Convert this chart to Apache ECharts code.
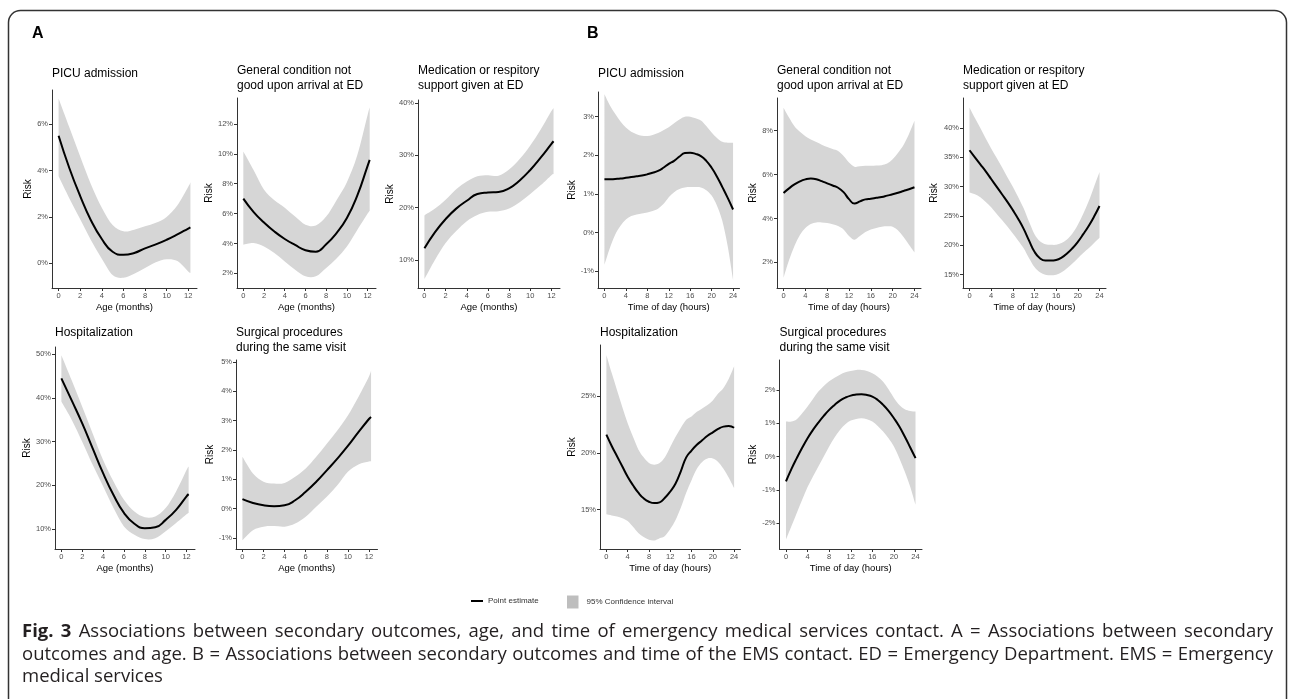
<!DOCTYPE html>
<html lang="en">
<head>
<meta charset="UTF-8">
<title>Fig. 3</title>
<script src="https://cdn.jsdelivr.net/npm/echarts@6/dist/echarts.min.js"></script>
<style>
  html, body { margin: 0; padding: 0; background: #fff; }
  #chart { width: 1295px; height: 699px; }
</style>
</head>
<body>
<div id="chart"></div>
<script>
// x values
const ageX = [0, 1, 2, 3, 4, 5, 6, 7, 8, 9, 10, 11, 12, 12.2];
const hourX = [0, 1, 2, 3, 4, 5, 6, 7, 8, 9, 10, 11, 12, 13, 14, 15, 16, 17, 18, 19, 20, 21, 22, 23, 24];
const ageTicks = [0, 2, 4, 6, 8, 10, 12];
const hourTicks = [0, 4, 8, 12, 16, 20, 24];

// A: risk by age (%)
const a1Est = [5.5, 4.1, 2.9, 1.85, 1.05, 0.5, 0.37, 0.45, 0.65, 0.82, 1.02, 1.25, 1.5, 1.55];
const a1Hi  = [7.1, 5.85, 4.6, 3.4, 2.4, 1.65, 1.38, 1.45, 1.6, 1.75, 2.0, 2.5, 3.3, 3.5];
const a1Lo  = [3.75, 2.8, 1.9, 1.0, 0.2, -0.5, -0.62, -0.45, -0.2, 0.05, 0.18, 0.1, -0.35, -0.42];

const a2Est = [7.0, 6.1, 5.4, 4.8, 4.3, 3.9, 3.55, 3.45, 3.95, 4.7, 5.7, 7.2, 9.2, 9.6];
const a2Hi  = [10.15, 8.9, 7.6, 6.9, 6.4, 5.8, 5.25, 5.2, 5.8, 6.9, 8.1, 9.9, 12.6, 13.1];
const a2Lo  = [3.92, 4.03, 3.8, 3.36, 2.8, 2.25, 1.8, 1.8, 2.36, 3.0, 3.8, 4.9, 6.0, 6.2];

const a3Est = [12.2, 15.3, 17.8, 19.8, 21.3, 22.6, 22.9, 23.0, 23.7, 25.2, 27.2, 29.6, 32.2, 32.7];
const a3Hi  = [18.5, 19.8, 21.5, 23.5, 25.0, 26.0, 26.2, 26.1, 27.3, 29.3, 31.9, 35.0, 38.5, 39.0];
const a3Lo  = [6.3, 10.0, 13.2, 15.5, 17.4, 18.6, 19.2, 19.3, 19.8, 21.0, 22.6, 24.3, 26.2, 26.4];

const a4Est = [44.5, 39.4, 34.2, 28.5, 22.8, 17.8, 13.7, 11.2, 10.2, 10.4, 12.1, 14.4, 17.5, 18.0];
const a4Hi  = [49.8, 44.0, 38.0, 31.9, 25.8, 20.9, 16.7, 14.0, 12.7, 12.9, 14.8, 18.6, 23.5, 24.3];
const a4Lo  = [39.2, 35.0, 30.0, 24.7, 19.8, 14.8, 10.6, 8.7, 7.7, 7.9, 9.5, 11.4, 13.4, 13.7];

const a5Est = [0.32, 0.19, 0.11, 0.08, 0.11, 0.28, 0.57, 0.91, 1.3, 1.7, 2.13, 2.6, 3.05, 3.12];
const a5Hi  = [1.76, 1.19, 0.91, 0.85, 0.87, 1.08, 1.36, 1.76, 2.21, 2.66, 3.17, 3.8, 4.5, 4.7];
const a5Lo  = [-1.08, -0.74, -0.62, -0.6, -0.62, -0.51, -0.28, 0.06, 0.4, 0.79, 1.25, 1.5, 1.6, 1.6];

// B: risk by time of day (%)
const b1Est = [1.38, 1.38, 1.39, 1.40, 1.42, 1.44, 1.46, 1.48, 1.51, 1.55, 1.60, 1.68, 1.78, 1.86, 1.97, 2.06, 2.07, 2.04, 1.98, 1.86, 1.68, 1.45, 1.18, 0.9, 0.6];
const b1Hi  = [3.58, 3.3, 3.08, 2.88, 2.72, 2.61, 2.55, 2.51, 2.50, 2.53, 2.58, 2.65, 2.73, 2.83, 2.93, 3.0, 3.0, 2.96, 2.9, 2.76, 2.59, 2.45, 2.35, 2.33, 2.33];
const b1Lo  = [-0.83, -0.4, -0.05, 0.18, 0.34, 0.43, 0.47, 0.5, 0.52, 0.56, 0.62, 0.74, 0.92, 1.05, 1.13, 1.17, 1.18, 1.18, 1.17, 1.1, 0.96, 0.7, 0.3, -0.35, -1.22];

const b2Est = [5.16, 5.37, 5.55, 5.69, 5.78, 5.82, 5.79, 5.7, 5.6, 5.5, 5.4, 5.2, 4.88, 4.68, 4.78, 4.87, 4.9, 4.94, 4.98, 5.04, 5.1, 5.17, 5.25, 5.33, 5.42];
const b2Hi  = [9.05, 8.6, 8.2, 7.95, 7.75, 7.6, 7.48, 7.36, 7.26, 7.17, 7.08, 6.85, 6.55, 6.36, 6.38, 6.4, 6.4, 6.41, 6.43, 6.5, 6.7, 7.0, 7.35, 7.85, 8.45];
const b2Lo  = [1.3, 2.1, 2.75, 3.25, 3.57, 3.75, 3.82, 3.82, 3.79, 3.73, 3.66, 3.5, 3.2, 3.03, 3.2, 3.38, 3.5, 3.57, 3.62, 3.64, 3.62, 3.45, 3.15, 2.8, 2.45];

const b3Est = [36.2, 35.0, 33.8, 32.6, 31.3, 30.0, 28.7, 27.4, 26.0, 24.5, 22.8, 20.8, 18.9, 17.8, 17.4, 17.4, 17.5, 17.9, 18.6, 19.5, 20.6, 21.9, 23.3, 24.9, 26.7];
const b3Hi  = [43.5, 41.7, 40.0, 38.2, 36.5, 34.9, 33.3, 31.6, 30.0, 28.2, 26.3, 24.0, 21.9, 20.7, 20.2, 20.1, 20.1, 20.4, 21.0, 22.0, 23.5, 25.4, 27.5, 30.0, 32.5];
const b3Lo  = [29.0, 28.7, 28.2, 27.4, 26.5, 25.4, 24.3, 23.2, 22.0, 20.8, 19.5, 17.8, 16.3, 15.4, 15.0, 14.9, 15.0, 15.4, 16.1, 16.9, 17.8, 18.7, 19.5, 20.4, 21.3];

const b4Est = [21.6, 20.6, 19.7, 18.8, 17.9, 17.15, 16.5, 16.0, 15.7, 15.58, 15.65, 16.05, 16.6, 17.3, 18.4, 19.6, 20.2, 20.7, 21.1, 21.5, 21.8, 22.1, 22.3, 22.35, 22.2];
const b4Hi  = [28.6, 27.0, 25.5, 24.0, 22.6, 21.4, 20.3, 19.6, 19.1, 18.95, 19.1, 19.6, 20.5, 21.4, 22.2, 22.9, 23.2, 23.6, 23.9, 24.2, 24.6, 25.2, 25.7, 26.5, 27.6];
const b4Lo  = [14.6, 14.5, 14.4, 14.25, 14.0, 13.5, 12.95, 12.6, 12.37, 12.3, 12.5, 12.7, 13.3, 14.1, 15.2, 16.5, 17.6, 18.6, 19.2, 19.5, 19.5, 19.2, 18.6, 17.8, 16.9];

const b5Est = [-0.75, -0.38, -0.05, 0.26, 0.55, 0.8, 1.02, 1.22, 1.4, 1.55, 1.68, 1.77, 1.83, 1.86, 1.87, 1.85, 1.8, 1.7, 1.55, 1.37, 1.15, 0.9, 0.6, 0.28, -0.05];
const b5Hi  = [1.05, 1.05, 1.12, 1.3, 1.5, 1.73, 1.95, 2.12, 2.26, 2.37, 2.46, 2.53, 2.57, 2.6, 2.6, 2.57, 2.5, 2.4, 2.25, 2.02, 1.76, 1.55, 1.42, 1.37, 1.35];
const b5Lo  = [-2.5, -2.1, -1.7, -1.3, -0.92, -0.6, -0.3, 0.0, 0.3, 0.57, 0.8, 0.97, 1.08, 1.13, 1.15, 1.12, 1.05, 0.92, 0.75, 0.55, 0.3, -0.05, -0.45, -0.9, -1.45];

const FONT = '"Liberation Sans", Arial, sans-serif';

// panel layout: grid = [left, top, width, height] in px
const panels = [
  { title: 'PICU admission', x: ageX, est: a1Est, lo: a1Lo, hi: a1Hi, xTicks: ageTicks, xName: 'Age (months)',
    grid: [52, 90, 145, 198], y: [-1.06, 7.47], yTicks: [0, 2, 4, 6], riskGap: 19, tTop: 66 },
  { title: 'General condition not\ngood upon arrival at ED', x: ageX, est: a2Est, lo: a2Lo, hi: a2Hi, xTicks: ageTicks, xName: 'Age (months)',
    grid: [237, 98, 139, 190], y: [1.02, 13.74], yTicks: [2, 4, 6, 8, 10, 12], riskGap: 22.5, tTop: 63.5 },
  { title: 'Medication or respitory\nsupport given at ED', x: ageX, est: a3Est, lo: a3Lo, hi: a3Hi, xTicks: ageTicks, xName: 'Age (months)',
    grid: [418, 100, 142, 188], y: [4.6, 40.6], yTicks: [10, 20, 30, 40], riskGap: 22, tTop: 63.5 },
  { title: 'Hospitalization', x: ageX, est: a4Est, lo: a4Lo, hi: a4Hi, xTicks: ageTicks, xName: 'Age (months)',
    grid: [55, 347, 140, 202], y: [5.43, 51.7], yTicks: [10, 20, 30, 40, 50], riskGap: 22.5, tTop: 325.5 },
  { title: 'Surgical procedures\nduring the same visit', x: ageX, est: a5Est, lo: a5Lo, hi: a5Hi, xTicks: ageTicks, xName: 'Age (months)',
    grid: [236, 360, 141.5, 189], y: [-1.38, 5.06], yTicks: [-1, 0, 1, 2, 3, 4, 5], riskGap: 21, tTop: 325 },
  { title: 'PICU admission', x: hourX, est: b1Est, lo: b1Lo, hi: b1Hi, xTicks: hourTicks, xName: 'Time of day (hours)',
    grid: [598, 92, 141.5, 196], y: [-1.43, 3.64], yTicks: [-1, 0, 1, 2, 3], riskGap: 21, tTop: 66 },
  { title: 'General condition not\ngood upon arrival at ED', x: hourX, est: b2Est, lo: b2Lo, hi: b2Hi, xTicks: hourTicks, xName: 'Time of day (hours)',
    grid: [777, 98, 144, 190], y: [0.83, 9.49], yTicks: [2, 4, 6, 8], riskGap: 17.5, tTop: 63.5 },
  { title: 'Medication or respitory\nsupport given at ED', x: hourX, est: b3Est, lo: b3Lo, hi: b3Hi, xTicks: hourTicks, xName: 'Time of day (hours)',
    grid: [963, 98, 143, 190], y: [12.73, 45.1], yTicks: [15, 20, 25, 30, 35, 40], riskGap: 23.5, tTop: 63.5 },
  { title: 'Hospitalization', x: hourX, est: b4Est, lo: b4Lo, hi: b4Hi, xTicks: hourTicks, xName: 'Time of day (hours)',
    grid: [600, 345, 140.5, 204], y: [11.55, 29.47], yTicks: [15, 20, 25], riskGap: 22.5, tTop: 325.5 },
  { title: 'Surgical procedures\nduring the same visit', x: hourX, est: b5Est, lo: b5Lo, hi: b5Hi, xTicks: hourTicks, xName: 'Time of day (hours)',
    grid: [779.5, 360, 142.5, 189], y: [-2.78, 2.9], yTicks: [-2, -1, 0, 1, 2], riskGap: 21, tTop: 325 }
];

// smooth bezier through screen points (Catmull-Rom)
function curveThrough(pts) {
  let d = '';
  for (let i = 0; i < pts.length - 1; i++) {
    const p0 = pts[Math.max(i - 1, 0)], p1 = pts[i], p2 = pts[i + 1], p3 = pts[Math.min(i + 2, pts.length - 1)];
    const c1 = [p1[0] + (p2[0] - p0[0]) / 6, p1[1] + (p2[1] - p0[1]) / 6];
    const c2 = [p2[0] - (p3[0] - p1[0]) / 6, p2[1] - (p3[1] - p1[1]) / 6];
    d += 'C' + c1.join(',') + ' ' + c2.join(',') + ' ' + p2.join(',');
  }
  return d;
}

const grids = [], xAxes = [], yAxes = [], series = [], titles = [];
const axisLine = { show: true, onZero: false, lineStyle: { color: '#333', width: 1 } };
const labelStyle = { color: '#4d4d4d', fontSize: 7.5, fontFamily: FONT, margin: 4 };

panels.forEach((p, i) => {
  grids.push({ left: p.grid[0], top: p.grid[1], width: p.grid[2], height: p.grid[3] });
  const xMax = p.x[p.x.length - 1], pad = xMax * 0.05;
  xAxes.push({
    type: 'value', gridIndex: i, min: -pad, max: xMax + pad,
    name: p.xName, nameLocation: 'middle', nameGap: 14,
    nameTextStyle: { color: '#000', fontSize: 9.5, fontFamily: FONT },
    axisLine: axisLine, splitLine: { show: false },
    axisTick: { customValues: p.xTicks, length: 3, lineStyle: { color: '#333' } },
    axisLabel: Object.assign({ customValues: p.xTicks }, labelStyle)
  });
  yAxes.push({
    type: 'value', gridIndex: i, min: p.y[0], max: p.y[1],
    name: 'Risk', nameLocation: 'middle', nameGap: p.riskGap,
    nameTextStyle: { color: '#000', fontSize: 10, fontFamily: FONT },
    axisLine: axisLine, splitLine: { show: false },
    axisTick: { show: true, customValues: p.yTicks, length: 3, lineStyle: { color: '#333' } },
    axisLabel: Object.assign({ customValues: p.yTicks, formatter: v => v + '%' }, labelStyle)
  });
  titles.push({
    text: p.title, left: p.grid[0], top: p.tTop, padding: 0,
    textStyle: { color: '#000', fontSize: 12, fontWeight: 'normal', fontFamily: FONT, lineHeight: 15 }
  });
  series.push({
    name: '95% Confidence interval', type: 'custom', xAxisIndex: i, yAxisIndex: i,
    data: p.x.map((x, k) => [x, p.lo[k], p.hi[k]]),
    encode: { x: 0, y: [1, 2] },
    itemStyle: { color: '#bebebe' }, silent: true, z: 1,
    renderItem: (params, api) => {
      if (params.dataIndex !== 0) return null;
      const up = p.x.map((x, k) => api.coord([x, p.hi[k]]));
      const dn = p.x.map((x, k) => api.coord([x, p.lo[k]])).reverse();
      const d = 'M' + up[0].join(',') + curveThrough(up) + 'L' + dn[0].join(',') + curveThrough(dn) + 'Z';
      return { type: 'path', shape: { pathData: d }, style: { fill: '#d6d6d6' } };
    }
  });
  series.push({
    name: 'Point estimate', type: 'line', xAxisIndex: i, yAxisIndex: i,
    data: p.x.map((x, k) => [x, p.est[k]]), smooth: true, symbol: 'none',
    itemStyle: { color: '#000' }, lineStyle: { color: '#000', width: 2 }, z: 3
  });
});

titles.push({ text: 'A', left: 32, top: 26, padding: 0, textStyle: { fontSize: 16, fontWeight: 'bold', color: '#000', fontFamily: FONT } });
titles.push({ text: 'B', left: 587, top: 26, padding: 0, textStyle: { fontSize: 16, fontWeight: 'bold', color: '#000', fontFamily: FONT } });

// caption, justified like the journal page (last line left aligned)
const captionLines = [
  'Fig. 3 Associations between secondary outcomes, age, and time of emergency medical services contact. A = Associations between secondary',
  'outcomes and age. B = Associations between secondary outcomes and time of the EMS contact. ED = Emergency Department. EMS = Emergency',
  'medical services'
];
const captionY = [632, 655, 677];
const CAP_FONT = '"Open Sans", "Noto Sans", sans-serif';
const CAP_SIZE = 18.5, CAP_LEFT = 22, CAP_RIGHT = 1273;

const measure = document.createElement('canvas').getContext('2d');
const captionEls = [];
captionLines.forEach((line, k) => {
  const words = line.split(' ');
  const fonts = words.map((w, j) => (k === 0 && j < 2 ? 'bold ' : '') + CAP_SIZE + 'px ' + CAP_FONT);
  const widths = words.map((w, j) => { measure.font = fonts[j]; return measure.measureText(w).width; });
  measure.font = CAP_SIZE + 'px ' + CAP_FONT;
  const space = measure.measureText(' ').width;
  const total = widths.reduce((a, b) => a + b, 0);
  const last = k === captionLines.length - 1;
  const gap = last ? space : (CAP_RIGHT - CAP_LEFT - total) / (words.length - 1);
  let x = CAP_LEFT;
  words.forEach((w, j) => {
    captionEls.push({
      type: 'text', silent: true, x: x, y: captionY[k],
      style: { text: w, fill: '#231f20', font: fonts[j], verticalAlign: 'middle' }
    });
    x += widths[j] + gap;
  });
});

const chart = echarts.init(document.getElementById('chart'), null, { renderer: 'canvas' });
chart.setOption({
  animation: false,
  backgroundColor: '#fff',
  title: titles,
  grid: grids,
  xAxis: xAxes,
  yAxis: yAxes,
  legend: [
    { data: [{ name: 'Point estimate', icon: 'rect' }], left: 466, top: 592, itemWidth: 12, itemHeight: 2,
      selectedMode: false, textStyle: { fontSize: 8, color: '#333', fontFamily: FONT } },
    { data: [{ name: '95% Confidence interval', icon: 'rect' }], left: 562, top: 590.5, itemWidth: 11.5, itemHeight: 13,
      selectedMode: false, textStyle: { fontSize: 8, color: '#333', fontFamily: FONT, padding: [0, 0, 0, 3] } }
  ],
  graphic: [
    { type: 'rect', silent: true, z: -1,
      shape: { x: 8.5, y: 10.5, width: 1278, height: 740, r: 12 },
      style: { fill: 'none', stroke: '#333', lineWidth: 1.5 } }
  ].concat(captionEls),
  series: series
});
</script>
</body>
</html>
